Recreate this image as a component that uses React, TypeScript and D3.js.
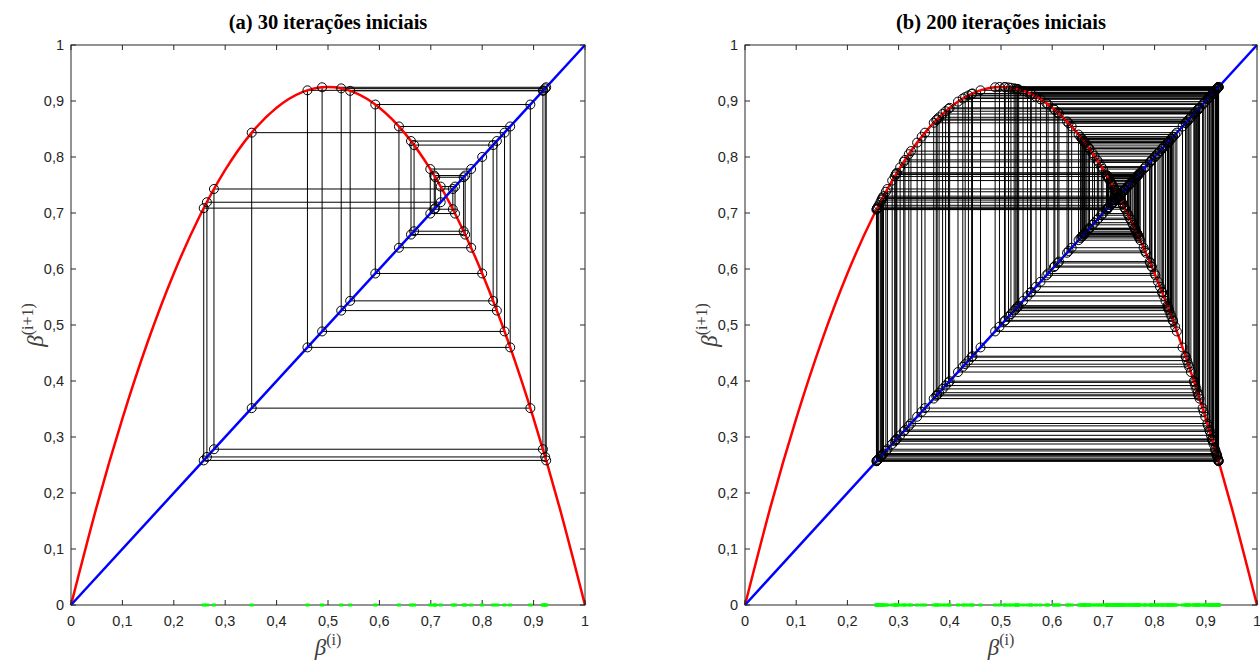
import * as d3 from "d3";

// tick values and their (pt-BR) labels
const tickValues = [0, 0.1, 0.2, 0.3, 0.4, 0.5, 0.6, 0.7, 0.8, 0.9, 1];
const tickLabels = ["0", "0,1", "0,2", "0,3", "0,4", "0,5", "0,6", "0,7", "0,8", "0,9", "1"];

// red map curve
const curveX = [0, 0.05, 0.1, 0.15, 0.2, 0.25, 0.3, 0.35, 0.4, 0.45, 0.5, 0.55, 0.6, 0.65, 0.7, 0.75, 0.8, 0.85, 0.9, 0.95, 1];
const curveY = [0, 0.1758, 0.333, 0.4718, 0.592, 0.6938, 0.777, 0.8418, 0.888, 0.9158, 0.925, 0.9158, 0.888, 0.8418, 0.777, 0.6938, 0.592, 0.4718, 0.333, 0.1758, 0];

// first 30 iterations (x0 .. x30)
const orbit30 = [
  0.8, 0.592, 0.89368, 0.35155, 0.84346, 0.48853, 0.92451, 0.25822, 0.7087, 0.76384,
  0.66744, 0.82127, 0.54311, 0.91812, 0.27814, 0.74288, 0.70673, 0.76687, 0.66149, 0.8285,
  0.52571, 0.92254, 0.26439, 0.71924, 0.74716, 0.69899, 0.7785, 0.63803, 0.85451, 0.46,
  0.91908,
];

// iterations 31 .. 200
const orbitRest = [
  0.2751, 0.7379, 0.7156, 0.753, 0.6882, 0.794, 0.6052, 0.8841, 0.3791, 0.8709,
  0.416, 0.8989, 0.3362, 0.8257, 0.5325, 0.9211, 0.2689, 0.7274, 0.7337, 0.7229,
  0.7412, 0.7097, 0.7623, 0.6704, 0.8176, 0.5518, 0.9151, 0.2875, 0.7579, 0.6789,
  0.8066, 0.5772, 0.903, 0.3241, 0.8105, 0.5683, 0.9077, 0.31, 0.7914, 0.6108,
  0.8796, 0.3918, 0.8817, 0.3859, 0.8768, 0.3997, 0.8878, 0.3686, 0.8611, 0.4426,
  0.9128, 0.2945, 0.7688, 0.6577, 0.833, 0.5147, 0.9242, 0.2592, 0.7105, 0.7611,
  0.6728, 0.8145, 0.559, 0.9121, 0.2966, 0.7719, 0.6515, 0.8401, 0.497, 0.925,
  0.2567, 0.706, 0.768, 0.6593, 0.8311, 0.5194, 0.9236, 0.2611, 0.7138, 0.7559,
  0.6827, 0.8015, 0.5887, 0.8959, 0.3451, 0.8362, 0.5068, 0.9248, 0.2573, 0.7071,
  0.7663, 0.6626, 0.8272, 0.5289, 0.9219, 0.2664, 0.7231, 0.7408, 0.7104, 0.7613,
  0.6725, 0.8149, 0.558, 0.9126, 0.2953, 0.7699, 0.6554, 0.8356, 0.5083, 0.9248,
  0.2575, 0.7074, 0.7659, 0.6634, 0.8262, 0.5312, 0.9214, 0.268, 0.7258, 0.7364,
  0.7182, 0.7488, 0.696, 0.7828, 0.629, 0.8634, 0.4364, 0.91, 0.303, 0.7814,
  0.6321, 0.8604, 0.4443, 0.9135, 0.2923, 0.7653, 0.6645, 0.8249, 0.5345, 0.9206,
  0.2705, 0.7301, 0.7292, 0.7307, 0.7282, 0.7324, 0.7252, 0.7374, 0.7165, 0.7516,
  0.6908, 0.7903, 0.6132, 0.8776, 0.3975, 0.8861, 0.3735, 0.8658, 0.43, 0.9069,
  0.3124, 0.7948, 0.6034, 0.8854, 0.3753, 0.8675, 0.4254, 0.9044, 0.3199, 0.805,
];

const orbit200 = [...orbit30, ...orbitRest];

const TOP = 45;
const BOTTOM = 605;
const AXIS = "#262626";
const SANS = "'Liberation Sans', Arial, sans-serif";
const SERIF = "'Liberation Serif', 'Times New Roman', serif";

function Panel({ title, left, right, orbit }: { title: string; left: number; right: number; orbit: number[] }) {
  const x = d3.scaleLinear().domain([0, 1]).range([left, right]);
  const y = d3.scaleLinear().domain([0, 1]).range([BOTTOM, TOP]);
  const cx = (left + right) / 2;

  const curvePath = d3
    .line<number>()
    .x((_, i) => x(curveX[i]))
    .y((d) => y(d))
    .curve(d3.curveNatural)(curveY);

  // cobweb staircase
  const p = d3.path();
  p.moveTo(x(orbit[0]), y(orbit[0]));
  for (let n = 0; n < orbit.length - 1; n++) {
    p.lineTo(x(orbit[n]), y(orbit[n + 1]));
    p.lineTo(x(orbit[n + 1]), y(orbit[n + 1]));
  }

  const circles: [number, number][] = [];
  orbit.forEach((v, n) => {
    circles.push([v, v]);
    if (n < orbit.length - 1) circles.push([v, orbit[n + 1]]);
  });

  return (
    <g>
      <text x={cx} y={29} textAnchor="middle" fontFamily={SERIF} fontWeight="bold" fontSize={20.5} fill="#000">
        {title}
      </text>

      <path d={p.toString()} fill="none" stroke="#000" strokeWidth={1} />
      <path d={curvePath ?? ""} fill="none" stroke="#ff0000" strokeWidth={2.5} />
      <line x1={x(0)} y1={y(0)} x2={x(1)} y2={y(1)} stroke="#0000ff" strokeWidth={2.5} />

      {circles.map(([a, b], i) => (
        <circle key={i} cx={x(a)} cy={y(b)} r={4.5} fill="none" stroke="#000" strokeWidth={1} />
      ))}

      {/* frame and ticks */}
      <rect x={left} y={TOP} width={right - left} height={BOTTOM - TOP} fill="none" stroke={AXIS} strokeWidth={1} />
      {tickValues.map((t, i) => (
        <g key={i}>
          <line x1={x(t)} x2={x(t)} y1={BOTTOM} y2={BOTTOM - 5} stroke={AXIS} />
          <line x1={x(t)} x2={x(t)} y1={TOP} y2={TOP + 5} stroke={AXIS} />
          <line x1={left} x2={left + 5} y1={y(t)} y2={y(t)} stroke={AXIS} />
          <line x1={right} x2={right - 5} y1={y(t)} y2={y(t)} stroke={AXIS} />
          <text x={x(t)} y={626} textAnchor="middle" fontFamily={SANS} fontSize={14.5} fill={AXIS}>
            {tickLabels[i]}
          </text>
          <text x={left - 7} y={y(t) + 5} textAnchor="end" fontFamily={SANS} fontSize={14.5} fill={AXIS}>
            {tickLabels[i]}
          </text>
        </g>
      ))}

      {/* iterates on the x axis */}
      {orbit.map((v, i) => (
        <rect key={"g" + i} x={x(v) - 2} y={BOTTOM - 1.5} width={4} height={3} fill="#00ff00" />
      ))}

      <text x={cx} y={655} textAnchor="middle" fontFamily={SERIF} fill="#404040">
        <tspan fontSize={23} fontStyle="italic">β</tspan>
        <tspan fontSize={16} dy={-10}>(i)</tspan>
      </text>
      <text
        transform={`translate(${left - 28},${(TOP + BOTTOM) / 2}) rotate(-90)`}
        textAnchor="middle"
        fontFamily={SERIF}
        fill="#404040"
      >
        <tspan fontSize={23} fontStyle="italic">β</tspan>
        <tspan fontSize={16} dy={-10}>(i+1)</tspan>
      </text>
    </g>
  );
}

export default function App() {
  return (
    <div style={{ position: "absolute", left: 0, top: 0 }}>
      <svg width={1260} height={663} style={{ display: "block", background: "#fff" }}>
        <Panel title="(a) 30 iterações iniciais" left={71} right={585} orbit={orbit30} />
        <Panel title="(b) 200 iterações iniciais" left={745} right={1257} orbit={orbit200} />
      </svg>
    </div>
  );
}
